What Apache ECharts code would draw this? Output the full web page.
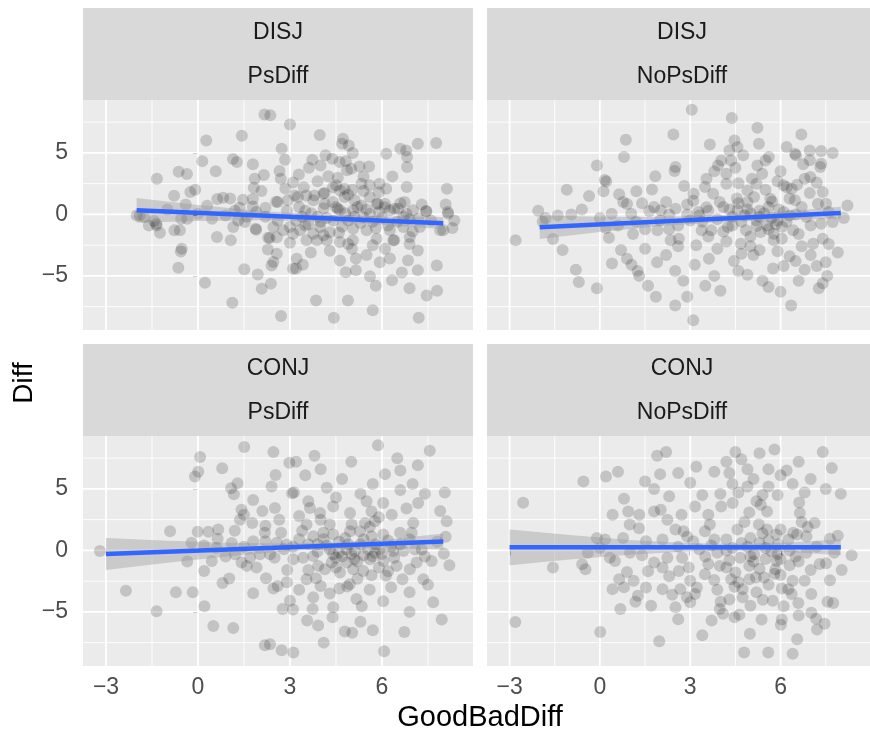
<!DOCTYPE html>
<html><head><meta charset="utf-8">
<script src="https://cdn.jsdelivr.net/npm/echarts@6/dist/echarts.min.js"></script>
<style>html,body{margin:0;padding:0;background:#fff}#c{width:870px;height:736px}</style>
</head><body><div id="c"></div>
<script>
// ---- facet labels ----
const stripTop = ['DISJ', 'DISJ', 'CONJ', 'CONJ'];
const stripBottom = ['PsDiff', 'NoPsDiff', 'PsDiff', 'NoPsDiff'];
const xTitle = 'GoodBadDiff';
const yTitle = 'Diff';

// ---- axis ticks ----
const xTicks = [-3, 0, 3, 6];
const yTicks = [-5, 0, 5];
const xMinor = [-1.5, 1.5, 4.5, 7.5];
const yMinor = [-7.5, -2.5, 2.5, 7.5];
const xRange = [-3.75, 8.97];
const yRange = [-9.4, 9.3];

// ---- points (GoodBadDiff, Diff) ----
const ptsDisjPs = [
[2.17,8.13],[2.36,8.05],[0.27,6.0],[1.43,6.4],[0.14,4.33],[1.14,4.5],[1.27,4.25],[1.79,4.07],[0.58,3.5],[-1.34,2.9],
[-0.63,3.47],[-0.36,3.28],[2.15,3.2],[2.66,3.52],[2.73,5.34],[1.85,2.9],[1.82,2.17],[2.07,1.9],[-0.78,1.52],[-0.25,1.81],
[-0.09,2.0],[0.63,1.25],[0.82,1.35],[1.05,1.3],[1.47,1.2],[1.79,1.25],[2.55,1.03],[1.36,0.54],[1.79,0.65],[2.2,0.54],
[2.84,4.45],[2.7,2.9],[3.0,7.3],[-1.76,-0.22],[-1.43,-0.54],[-1.35,-0.9],[-1.24,-1.49],[-0.77,-1.3],[-0.59,-1.3],[-0.55,-0.35],
[-0.35,-0.35],[0.0,0.05],[0.46,-0.35],[0.62,-1.84],[1.07,-2.1],[1.15,-1.03],[1.31,-0.49],[1.53,-0.62],[1.88,-1.16],[1.9,-1.25],
[2.29,-1.9],[2.46,-1.03],[2.57,-1.85],[2.78,-1.3],[3.0,-1.03],[3.1,-1.57],[-0.53,-2.79],[-0.56,-3.02],[-0.64,-4.34],[0.23,-5.56],
[1.12,-7.18],[1.51,-4.47],[1.95,-4.88],[2.08,-6.04],[2.38,-5.63],[2.4,-4.15],[2.46,-3.88],[2.57,-3.2],[2.71,-8.27],[3.1,-4.42],
[3.22,-3.6],[-1.36,-0.76],[2.28,-2.85],[2.34,-1.93],[-2.0,-0.1],
[3.97,6.45],[4.73,6.15],[4.92,5.6],[5.05,4.99],[4.7,5.75],[3.29,3.25],[3.62,3.8],[3.73,4.45],[4.0,3.98],[4.16,4.8],
[4.38,4.53],[4.62,4.25],[4.82,4.33],[4.86,3.58],[5.0,3.71],[5.27,3.9],[5.58,3.9],[5.4,3.09],[4.56,2.98],[4.51,2.36],
[4.78,2.09],[5.03,2.0],[5.33,2.5],[5.6,2.36],[5.92,2.5],[6.14,2.09],[6.34,3.09],[6.14,4.93],[6.6,5.34],[6.79,5.2],
[6.82,4.66],[6.82,3.85],[7.17,5.75],[7.77,5.8],[6.81,2.22],[8.12,2.09],[8.08,0.81],[8.15,0.19],[3.15,1.54],[3.53,1.54],
[3.8,1.54],[4.13,1.73],[4.13,0.87],[4.56,0.46],[4.78,1.41],[5.11,1.14],[5.33,0.73],[5.6,1.41],[5.87,0.87],[6.09,0.59],
[6.41,0.46],[6.74,1.0],[7.01,0.33],[7.44,0.27],[2.6,1.0],[2.93,1.14],[3.26,1.41],[2.85,2.1],[3.1,2.6],[3.45,2.2],
[3.9,2.7],[4.25,3.1],[4.4,2.2],
[8.16,0.05],[8.36,-0.49],[8.0,-1.3],[7.45,0.24],[7.18,-0.35],[6.8,0.05],[6.53,0.46],[6.26,0.33],[6.1,0.87],[5.83,0.87],
[5.61,0.05],[5.39,-0.22],[5.06,0.33],[4.63,0.33],[4.41,-0.49],[5.06,-1.16],[5.5,-1.3],[5.83,-1.98],[6.26,-1.3],[6.37,-2.11],
[6.7,-1.03],[6.91,-1.84],[7.24,-1.03],[3.98,-1.03],[3.76,-1.57],[3.54,-2.11],[4.2,-2.11],[4.63,-2.25],[3.33,-1.3],[3.76,1.14],
[4.09,1.68],[4.63,1.95],
[3.85,-7.0],[3.2,-4.4],[3.42,-4.1],[4.3,-2.95],[4.63,-3.74],[5.02,-2.8],[4.82,-4.7],[5.15,-4.55],[5.61,-5.04],[5.93,-3.9],
[6.26,-3.58],[6.65,-4.72],[6.9,-6.0],[7.17,-4.55],[7.46,-6.6],[6.33,-5.36],[5.7,-7.8],[4.89,-7.0],[4.43,-8.4],[7.2,-8.4],
[5.15,-3.58],[6.85,-3.74],[7.17,-2.93],[7.79,-4.15],[7.8,-6.2],[5.8,-5.8],[3.88,-2.1],[5.05,-2.1],[5.7,-2.5],[6.4,-2.1],
[7.9,-1.3],[8.3,-1.1],[3.68,-3.1],[4.3,-1.45],
[3.5,0.3],[3.9,-0.2],[4.1,0.5],[4.4,1.0],[4.9,-0.5],[5.2,0.6],[5.7,-0.6],[6.0,-0.3],[6.5,-0.6],[6.9,-0.4],
[7.3,0.8],[7.6,-0.5],[4.7,-1.0],[5.9,0.2],[3.2,-0.5],[3.6,-0.8],[2.9,0.3],[2.6,-0.5],[2.2,-0.2],[1.9,0.2],
[1.6,-0.2],[0.9,-0.1],[1.2,0.3],[0.3,0.7],[-0.4,0.8],[-1.0,0.4],[-1.6,-0.9],[-1.9,-0.1],[4.0,-0.6],[5.3,-0.7],
[6.7,-0.2],[3.4,-0.2],[4.8,0.1],[5.5,0.4],
[3.3,0.6],[3.7,0.1],[4.2,-0.3],[4.5,0.6],[4.9,1.6],[5.4,1.9],[5.8,-1.1],[6.2,-0.9],[6.6,0.9],[7.0,-1.4],
[3.0,-2.3],[4.1,-1.7],[4.9,-2.4],[5.5,-3.3],[6.1,-2.8],[6.9,-2.4],[3.5,-0.9],[4.6,-1.5],[5.1,-0.2],[5.9,1.8]
];
const ptsDisjNoPs = [
[3.05,8.5],[4.38,7.83],[5.23,7.05],[6.69,6.5],[0.86,6.07],[2.44,6.5],[3.65,5.69],[4.47,6.0],[5.28,5.74],[4.3,5.2],
[4.57,5.47],[4.76,4.8],[0.8,4.66],[-0.1,3.98],[2.51,3.85],[2.48,3.52],[1.84,3.11],[3.92,3.98],[4.03,4.39],[4.36,4.39],
[5.23,3.98],[5.39,3.31],[5.61,4.66],[5.5,4.39],[6.2,5.47],[6.48,4.93],[6.75,4.07],[6.97,5.2],[7.35,5.15],[7.73,4.99],
[7.35,4.12],[7.32,3.85],[6.99,3.03],[0.21,2.68],[0.12,1.89],[0.64,1.63],[1.21,1.89],[1.73,2.03],[0.77,1.0],[0.9,0.85],
[0.39,0.05],[1.04,0.05],[1.64,0.27],[2.02,0.33],[2.3,0.0],[2.51,0.46],[2.9,0.0],[3.11,1.68],[3.54,2.9],[3.49,2.22],
[3.76,1.68],[3.98,1.0],[3.54,0.59],[3.27,0.19],[4.2,2.5],[4.6,2.54],[4.9,1.95],[5.12,1.41],[4.57,0.33],[5.0,0.1],
[5.66,1.28],[5.72,1.05],[5.3,0.3],[6.1,2.36],[6.37,2.09],[6.48,1.14],[6.3,1.3],[6.97,1.73],[7.4,1.81],[7.24,0.87],
[7.51,0.87],[8.22,0.73],[6.86,-0.22],[7.35,-0.76],[7.73,-0.62],[7.4,-1.98],[7.08,-2.39],[1.91,-1.3],[2.35,-2.11],[2.62,-1.98],
[3.38,-1.3],[3.7,-1.3],[4.25,-1.03],[4.85,-1.3],[5.34,-1.44],[5.77,-1.57],[6.04,-1.98],[6.42,-1.3],[5.77,-2.11],[4.68,-2.39],
[6.51,4.8],[6.97,4.4],[6.2,2.2],[6.55,2.4],
[-2.8,-2.1],[-2.05,0.3],[-1.8,-0.3],[-1.24,-2.9],[-0.8,-4.5],[-0.7,-5.5],[-0.1,-6.0],[0.4,-4.0],[0.16,2.8],[-0.36,1.5],
[-1.1,2.0],[-0.95,0.0],[-1.56,-2.0],[-1.9,-0.6],[-1.4,-0.1],[0.3,-1.9],[0.7,-2.9],[1.05,-4.1],[1.25,-4.6],[1.6,-5.8],
[1.86,-6.7],[2.5,-7.4],[2.77,-5.4],[2.9,-6.7],[3.1,-8.6],[3.15,-4.1],[3.5,-5.8],[3.62,-3.6],[3.8,-5.0],[4.45,-3.8],
[4.6,-4.6],[5.1,-3.3],[5.4,-5.4],[5.6,-5.9],[5.75,-4.4],[6.1,-4.2],[6.3,-3.4],[6.6,-5.4],[6.8,-4.5],[7.0,-3.3],
[7.2,-4.2],[7.27,-6.0],[7.55,-5.0],[7.5,-3.9],[6.35,-7.4],
[-0.6,0.4],[0.0,-0.3],[0.6,-0.9],[1.2,-0.6],[1.5,-1.2],[2.0,-0.5],[2.6,-0.9],[3.0,-0.5],[3.3,-0.1],[3.6,0.3],
[3.9,-0.4],[4.1,0.6],[4.4,-0.2],[4.7,-0.6],[4.9,0.4],[5.2,-0.5],[5.45,0.1],[5.7,-0.3],[5.95,0.4],[6.2,-0.6],
[6.5,0.0],[6.7,0.6],[7.0,-0.9],[7.6,0.2],[8.1,-0.3],[5.55,-0.9],[5.85,-0.8],[6.05,-1.0],[5.2,-0.95],[4.4,-0.9],
[3.1,1.1],[2.2,1.0],[1.4,0.9],[4.55,1.3],[4.9,1.0],[5.5,2.0],[5.9,2.7],[5.05,2.9],[4.2,3.3],[3.8,3.5],
[2.8,2.3],[1.5,-2.8],[2.2,-3.3],[2.6,-2.6],[3.2,-2.5],[3.9,-2.8],[4.2,-2.2],[5.0,-2.6],[5.3,-2.9],[5.9,-3.0],
[6.7,-2.6],[7.6,-2.4],[7.9,-3.1],[0.9,-3.6],[1.9,-3.9],[2.5,-4.6],[4.0,-6.2],[4.9,-4.9],[6.0,-6.3],[7.4,-5.6],
[1.3,-5.0],[5.6,0.6],[6.1,0.2],[4.3,0.4],[3.4,-0.6],[5.0,-1.8],[6.6,-1.6],
[4.6,0.9],[4.8,-0.1],[5.3,-0.2],[5.6,-1.2],[5.9,-0.5],[6.3,-0.1],[4.1,-1.4],[3.6,-1.8],[2.9,0.8],[1.8,0.6],
[6.0,3.5],[4.5,3.8],[5.2,2.5],[6.8,2.9],[7.2,2.6],[2.3,-1.2],[1.1,-1.6],[0.2,-1.1],[4.7,-3.2],[6.5,-3.8]
];
const ptsConjPs = [
[0.07,7.6],[1.51,8.41],[2.46,8.0],[2.98,7.12],[0.79,6.67],[0.01,6.4],[-0.1,6.0],[1.29,5.46],[1.08,5.06],[1.17,4.57],
[2.53,6.13],[3.07,4.65],
[-3.2,-0.05],[-2.35,-3.28],[-1.35,-4.95],[-0.91,1.56],[-0.72,-3.41],[-0.17,-3.41],[-0.35,-0.91],[-0.21,0.62],
[-0.01,1.51],[0.2,-1.67],[0.21,-4.54],[0.34,1.51],[0.66,1.69],[0.64,0.94],[0.45,-0.86],[0.5,-6.15],[1.15,-6.31],[0.8,-2.66],
[1.02,-2.28],[1.21,-0.32],[1.42,-0.99],[1.59,-1.26],[1.91,-1.4],[2.22,-2.26],[1.8,-3.49],[2.46,-3.09],[2.6,-2.9],[2.18,-7.72],
[2.35,-7.64],[2.73,-8.12],[3.11,-8.31],[2.76,-4.76],[3.0,-4.09],[3.1,-4.8],[2.91,-1.59],[3.11,-0.73],[1.42,3.31],[1.37,2.5],
[1.5,2.9],[1.77,2.23],[2.18,1.43],[2.51,3.44],[2.65,2.5],[2.71,1.43],[1.8,0.75],[2.2,0.75],[2.57,0.62],[2.89,0.48],
[2.02,-0.32],[2.35,-0.32],
[8.11,2.36],[8.08,1.1],[8.02,-0.27],[7.62,-0.86],[7.35,-2.34],[7.67,-4.22],[7.95,-5.62],[6.73,-6.64],[6.07,-8.2],[6.04,-4.14],
[4.79,-6.59],[5.03,-6.69],[4.39,-5.43],[3.92,-6.1],[3.56,-5.7],[3.74,-4.76],[3.76,-3.82],[4.41,-4.62],[5.17,-3.95],[5.34,-4.54],
[4.61,-3.09],[4.87,-2.93],[4.95,-2.75],[3.54,-2.34],[3.85,-2.26],[4.14,-1.53],[4.63,-1.8],[5.06,-1.53],[5.39,-1.67],[5.66,-2.02],
[6.13,-2.07],[6.67,-2.34],[6.91,-1.53],[7.13,-0.99],[6.48,-1.26],[6.05,-0.86],[5.61,-0.73],[4.85,-0.99],[4.36,-0.99],[3.92,-1.26],
[3.43,-0.59],[3.76,-0.46],[4.41,-0.32],[4.85,0.08],[5.12,-0.05],[5.55,0.08],[5.77,-0.19],[5.93,0.08],[6.37,-0.05],[6.7,-0.05],
[7.08,0.08],[7.3,0.08],[3.76,1.15],[4.09,1.43],[4.41,1.29],[4.96,1.56],[5.28,1.56],[5.66,1.15],[6.04,1.29],[6.59,1.43],
[6.97,1.43],[7.02,2.23],[3.54,2.1],[4.3,2.1],[5.01,2.1],[5.45,2.23],[5.77,2.36],[6.32,2.9],[5.66,3.17],[4.96,3.04],
[4.41,3.57],[3.65,3.44],[3.98,3.04],[6.04,3.85],[7.18,3.85],
[3.2,7.2],[3.8,7.7],[5.0,7.2],[5.87,8.55],[6.5,7.5],[6.6,6.5],[7.56,8.1],[8.05,4.7],[6.6,4.9],[7.17,6.93],
[7.0,5.4],[4.2,5.1],[3.13,4.7],[3.6,4.0],[4.5,4.3],[5.3,4.6],[5.7,5.4],[4.7,5.8],[3.5,6.1],[6.1,6.2],
[7.4,4.6],[5.5,4.0],[6.8,3.4],[4.0,6.6],[2.4,5.2],[1.8,4.1],[2.1,3.2],[3.3,2.8],
[0.2,0.4],[0.6,0.2],[0.9,-0.5],[1.1,0.6],[1.5,0.3],[1.7,-0.6],[2.5,-0.6],[2.8,0.1],[3.1,0.3],[3.3,0.9],
[3.6,0.5],[3.9,-0.1],[4.2,0.4],[4.6,0.7],[4.7,-0.5],[5.3,0.5],[5.0,-0.3],[5.8,0.5],[6.2,0.8],[6.6,0.5],
[5.2,-0.9],[4.0,-2.9],[4.3,-3.5],[5.6,-3.2],[6.3,-3.0],[6.9,-3.4],[7.5,-2.8],[6.9,-5.0],[5.7,-6.5],[4.1,-7.5],
[5.3,-5.8],[3.3,-3.2],[7.8,0.7],[8.2,-1.2],[7.9,3.2],[2.2,2.0],[1.2,1.6],[4.5,-0.6],[5.4,-0.4],[6.3,0.3],
[4.1,0.9],[5.9,-1.4],[3.6,-1.6],
[4.3,0.1],[4.6,-0.2],[4.9,0.5],[5.1,-0.7],[5.4,0.9],[5.7,-0.5],[6.0,-0.3],[6.4,-0.6],[4.8,1.0],[5.6,1.9],
[3.9,0.5],[4.5,-1.4],[5.2,-2.3],[6.2,-1.7],[4.0,2.5],[6.9,0.9],[7.4,-0.5],[3.4,1.6],[2.9,-2.6],[5.9,2.7]
];
const ptsConjNoPs = [
[0.42,2.9],[0.94,3.17],[0.99,2.1],[1.31,2.9],[1.8,3.17],[2.02,3.31],[2.24,2.5],[2.71,2.9],[3.16,3.57],[3.6,2.9],
[3.65,2.1],[4.03,3.57],[4.41,3.85],[4.96,3.09],[5.34,3.71],[5.55,3.17],[5.28,2.1],[5.55,1.69],[5.86,1.29],[6.42,1.43],
[6.64,3.04],[6.62,3.9],[7.13,2.23],[6.86,1.15],[7.64,0.94],[7.78,-0.19],[7.51,-1.05],[8.36,-0.4],[8.03,-1.59],[7.64,-2.42],
[7.56,-4.17],[7.75,-4.27],[7.02,-5.08],[7.18,-5.56],[7.46,-5.97],[7.21,-6.43],[6.55,-7.23],[6.4,-8.41],[5.59,-8.31],[4.79,-8.31],
[4.98,-6.77],[5.37,-5.62],[6.01,-6.05],[6.04,-5.62],[6.1,-4.54],[5.74,-4.09],[5.41,-4.01],[6.59,-4.27],[7.02,-3.55],[6.8,-2.47],
[6.37,-3.55],[6.26,-3.15],[6.4,-2.47],[6.04,-3.09],[6.0,-2.0],[5.83,-1.53],[5.87,-0.86],[6.0,-0.7],[5.45,-2.2],[5.18,-2.2],
[4.96,-2.34],[4.74,-3.15],[4.74,-3.82],[4.63,-5.24],[4.47,-5.43],[3.71,-5.7],[4.09,-5.16],[3.98,-4.76],[4.01,-4.17],[3.9,-3.2],
[4.36,-2.34],[4.47,-2.95],[4.2,-1.4],[3.98,-1.26],[4.66,-0.59],[5.12,-0.32],[5.5,-0.7],[4.96,-1.26],[3.49,-1.94],[3.6,-1.1],
[3.22,-3.01],[3.0,-2.47],[2.89,-3.82],[3.0,-4.22],[3.16,-3.55],[2.67,-3.15],[2.62,-1.67],[2.51,-4.62],[2.08,-3.15],[1.97,-7.39],
[1.53,-3.01],[1.26,-3.69],[1.18,-4.17],[0.68,-4.76],[0.42,-3.15],[0.64,-2.34],[1.12,-2.47],[0.9,-1.75],[0.01,-6.64],[0.5,-0.86],
[0.33,-0.6],[1.8,-0.99],[2.08,-1.4],[2.24,-0.6],[2.73,-0.6],[2.95,-1.4],[0.17,0.89],[0.77,1.0],[1.53,0.75],[2.08,0.89],
[2.51,1.69],[2.78,1.55],[3.1,0.75],[3.49,1.56],[3.8,0.89],[4.2,0.89],[4.57,1.69],[5.0,1.0],[5.92,0.5],[6.26,0.89],
[6.55,1.3],[6.86,-0.19],[6.5,-0.5],[6.3,0.0],[5.7,-0.1],
[-1.56,-1.4],[-0.59,-1.13],[-0.48,-1.53],[-2.81,-5.83],[-2.55,3.87],
[-0.55,5.6],[0.2,6.0],[0.6,6.4],[1.9,7.7],[2.2,8.0],[1.5,5.6],[1.8,5.0],[2.3,4.4],[0.8,4.2],[-0.1,1.0],
[0.0,0.2],[-0.4,-0.2],[1.0,-0.2],[1.4,-0.4],
[4.5,8.0],[4.7,7.4],[5.3,7.9],[5.8,8.2],[6.2,6.5],[7.4,8.0],[7.7,6.7],[6.6,7.2],[4.2,7.2],[3.8,6.4],
[3.0,5.5],[2.6,6.3],[4.9,6.6],[5.1,5.8],[5.6,5.2],[6.0,6.1],[6.4,5.4],[7.0,5.8],[7.5,5.0],[8.0,4.6],
[4.4,5.4],[4.0,4.6],[3.4,4.5],[5.9,4.5],[6.8,4.7],[3.2,6.8],[4.6,4.7],[5.4,4.5],[2.0,6.2],
[4.9,0.3],[5.3,0.6],[4.4,0.2],[3.9,-0.2],[3.3,0.1],[2.6,0.3],[5.6,0.8],[6.0,1.7],[6.9,1.9],[7.2,0.3],
[7.9,1.2],[4.5,-1.8],[3.8,-2.4],[5.2,-3.4],[5.6,-2.8],[5.0,-4.5],[6.6,-5.3],[3.4,-6.9],[2.6,-5.6],[1.7,-4.5],
[4.3,-4.0],[0.8,-3.0],[5.1,-0.9],[6.3,-1.2],[7.0,-1.6],[4.2,0.0],[3.5,-0.5],[2.3,-2.1],[1.6,-1.7],[5.4,1.4],
[4.7,0.6],[5.0,-0.5],[5.5,0.2],[5.9,-0.3],[4.3,-0.8],[4.8,2.3],[5.2,4.0],[4.9,5.2],[5.6,6.6],[4.3,6.3],
[5.8,-1.9],[5.3,-1.5],[4.6,-2.6],[6.6,-0.9],[3.7,0.4],[2.9,1.1],[1.3,1.8],[2.4,-3.6],[6.7,2.3],[7.3,-1.1]
];

// ---- fitted line (lm) and 95% band ----
const fitX = [[-2, 8], [-2, 8], [-3, 8], [-3, 8]];
const fitY = [[0.33, -0.72], [-1.05, 0.12], [-0.3, 0.72], [0.25, 0.25]];
const bandX = [
  [-2, 0, 2, 4, 6, 8],
  [-2, 0, 2, 4, 6, 8],
  [-3, -1, 1, 3, 4.5, 6, 8],
  [-3, -1, 1, 3, 4.5, 6, 8]
];
const bandHi = [
  [1.33, 0.77, 0.29, -0.02, -0.18, -0.24],
  [-0.1, -0.2, -0.22, -0.08, 0.22, 0.62],
  [1.0, 0.79, 0.62, 0.56, 0.64, 0.85, 1.37],
  [1.7, 1.25, 0.85, 0.58, 0.53, 0.6, 0.9]
];
const bandLo = [
  [-0.67, -0.53, -0.47, -0.58, -0.84, -1.2],
  [-2.0, -1.44, -0.94, -0.62, -0.44, -0.38],
  [-1.6, -1.01, -0.48, -0.04, 0.14, 0.21, 0.07],
  [-1.2, -0.75, -0.35, -0.08, -0.03, -0.1, -0.4]
];

const panelPoints = [ptsDisjPs, ptsDisjNoPs, ptsConjPs, ptsConjNoPs];

// ---- layout ----
const FONT = 'Liberation Sans, Arial, Helvetica, sans-serif';
const PW = 390, PH = 230;
const lefts = [83, 487, 83, 487];
const tops = [100, 100, 436, 436];
const stripH = 92;

const chart = echarts.init(document.getElementById('c'), null, {renderer: 'canvas'});

function fmt(v) { return v < 0 ? '\u2212' + Math.abs(v) : String(v); }

const grids = [], xAxes = [], yAxes = [], series = [], graphics = [];
for (let i = 0; i < 4; i++) {
  grids.push({left: lefts[i], top: tops[i], width: PW, height: PH, show: true,
    backgroundColor: '#EBEBEB', borderWidth: 0, containLabel: false});
  const bottomRow = i >= 2, leftCol = i % 2 === 0;
  xAxes.push({type: 'value', gridIndex: i, min: xRange[0], max: xRange[1],
    axisLine: {show: false}, splitLine: {show: false},
    axisTick: {show: bottomRow, customValues: xTicks, length: 5, lineStyle: {color: '#333333', width: 1.8}},
    axisLabel: {show: bottomRow, customValues: xTicks, formatter: fmt, color: '#4D4D4D', fontSize: 23, fontFamily: FONT, margin: 10}
  });
  yAxes.push({type: 'value', gridIndex: i, min: yRange[0], max: yRange[1],
    axisLine: {show: false}, splitLine: {show: false},
    axisTick: {show: leftCol, customValues: yTicks, length: 5, lineStyle: {color: '#333333', width: 1.8}},
    axisLabel: {show: leftCol, customValues: yTicks, formatter: fmt, color: '#4D4D4D', fontSize: 23, fontFamily: FONT, margin: 15}
  });
  // grid lines (drawn through the axis scales)
  series.push({type: 'custom', xAxisIndex: i, yAxisIndex: i, z: 1, silent: true,
    data: [[0, 0]],
    renderItem: function (params, api) {
      const ch = [];
      const add = (p1, p2, w) => ch.push({type: 'line', shape: {x1: p1[0], y1: p1[1], x2: p2[0], y2: p2[1]},
        style: {stroke: '#FFFFFF', lineWidth: w}});
      xMinor.forEach(v => add(api.coord([v, yRange[0]]), api.coord([v, yRange[1]]), 0.9));
      yMinor.forEach(v => add(api.coord([xRange[0], v]), api.coord([xRange[1], v]), 0.9));
      xTicks.forEach(v => add(api.coord([v, yRange[0]]), api.coord([v, yRange[1]]), 1.8));
      yTicks.forEach(v => add(api.coord([xRange[0], v]), api.coord([xRange[1], v]), 1.8));
      return {type: 'group', children: ch};
    }
  });
  series.push({type: 'scatter', xAxisIndex: i, yAxisIndex: i, z: 2, silent: true,
    data: panelPoints[i], symbolSize: 12, itemStyle: {color: 'rgba(0,0,0,0.21)', borderWidth: 0}});
  const bx = bandX[i], bh = bandHi[i], bl = bandLo[i];
  series.push({type: 'custom', xAxisIndex: i, yAxisIndex: i, z: 3, silent: true,
    data: [[bx[0], bh[0]]],
    renderItem: function (params, api) {
      const pts = [];
      for (let k = 0; k < bx.length; k++) pts.push(api.coord([bx[k], bh[k]]));
      for (let k = bx.length - 1; k >= 0; k--) pts.push(api.coord([bx[k], bl[k]]));
      return {type: 'polygon', shape: {points: pts}, style: {fill: 'rgba(153,153,153,0.4)'}};
    }
  });
  series.push({type: 'line', xAxisIndex: i, yAxisIndex: i, z: 4, silent: true, symbol: 'none',
    data: fitX[i].map((x, k) => [x, fitY[i][k]]),
    lineStyle: {color: '#3366FF', width: 4.5}});
  // strips
  graphics.push({type: 'rect', shape: {x: lefts[i], y: tops[i] - stripH, width: PW, height: stripH},
    style: {fill: '#D9D9D9'}, silent: true});
  graphics.push({type: 'text', x: lefts[i] + PW / 2, y: tops[i] - stripH + 25,
    style: {text: stripTop[i], fill: '#1A1A1A', fontSize: 23, fontFamily: FONT, align: 'center', verticalAlign: 'middle'}});
  graphics.push({type: 'text', x: lefts[i] + PW / 2, y: tops[i] - stripH + 69,
    style: {text: stripBottom[i], fill: '#1A1A1A', fontSize: 23, fontFamily: FONT, align: 'center', verticalAlign: 'middle'}});
}
graphics.push({type: 'text', x: 480, y: 718,
  style: {text: xTitle, fill: '#000000', fontSize: 29, fontFamily: FONT, align: 'center', verticalAlign: 'middle'}});
graphics.push({type: 'text', x: 24, y: 383, rotation: Math.PI / 2,
  style: {text: yTitle, fill: '#000000', fontSize: 28, fontFamily: FONT, align: 'center', verticalAlign: 'middle'}});

chart.setOption({
  animation: false,
  backgroundColor: '#FFFFFF',
  grid: grids, xAxis: xAxes, yAxis: yAxes, series: series,
  graphic: {elements: graphics}
});
</script></body></html>
